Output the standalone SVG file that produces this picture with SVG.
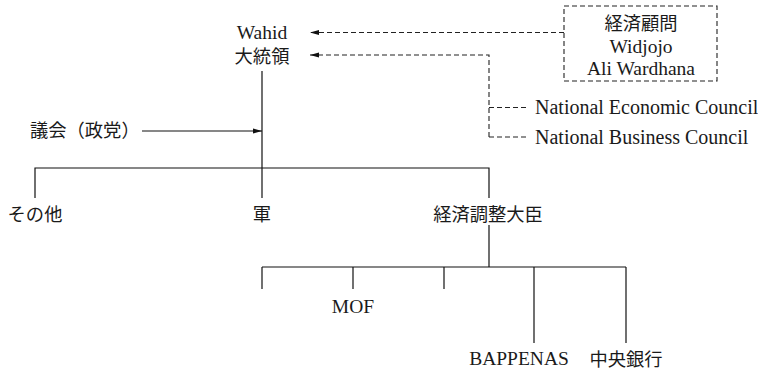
<svg xmlns="http://www.w3.org/2000/svg" width="758" height="373" viewBox="0 0 758 373">
<style>
.ln{stroke:#111;stroke-width:1.2;fill:none}
.ds{stroke:#222;stroke-width:1.1;fill:none;stroke-dasharray:5,3}
.lt{font-family:"Liberation Serif","Times New Roman",serif;font-size:19.5px;fill:#1a1a1a}
.big{font-size:20px}
.cj{font-family:"Noto Sans CJK JP","Noto Sans CJK SC",sans-serif;font-size:18.3px;fill:#1a1a1a}
.c{text-anchor:middle}
</style>
<defs>
<marker id="ah" markerWidth="10" markerHeight="6" refX="9" refY="3" orient="auto" markerUnits="userSpaceOnUse">
<path d="M0,0.5 L9,3 L0,5.5 Z" fill="#111"/>
</marker>
</defs>
<rect width="758" height="373" fill="#fff"/>
<g id="connectors">
<line class="ln" x1="262" y1="71" x2="262" y2="198"/>
<line class="ln" x1="142" y1="131" x2="262" y2="131" marker-end="url(#ah)"/>
<polyline class="ln" points="35,198 35,168 489,168 489,198"/>
<line class="ln" x1="489" y1="225" x2="489" y2="267"/>
<line class="ln" x1="262" y1="267" x2="626" y2="267"/>
<line class="ln" x1="262" y1="267" x2="262" y2="289"/>
<line class="ln" x1="353" y1="267" x2="353" y2="289"/>
<line class="ln" x1="444" y1="267" x2="444" y2="289"/>
<line class="ln" x1="534" y1="267" x2="534" y2="343"/>
<line class="ln" x1="626" y1="267" x2="626" y2="343"/>
<line class="ds" x1="564" y1="32.5" x2="310" y2="32.5" marker-end="url(#ah)"/>
<polyline class="ds" points="489,137 489,55 310,55" marker-end="url(#ah)"/>
<line class="ds" x1="489" y1="107.5" x2="527" y2="107.5"/>
<line class="ds" x1="489" y1="137" x2="527" y2="137"/>
</g>
<g id="president">
<text class="lt c" x="262" y="39">Wahid</text>
<text class="cj c" x="262" y="63">大統領</text>
</g>
<g id="parliament"><text class="cj" x="30" y="137">議会（政党）</text></g>
<g id="advisors">
<rect x="564" y="6" width="153" height="75" class="ds"/>
<text class="cj c" x="641" y="30">経済顧問</text>
<text class="lt c" x="641" y="53">Widjojo</text>
<text class="lt c" x="641" y="75">Ali Wardhana</text>
</g>
<g id="nec"><text class="lt big" x="535" y="114">National Economic Council</text></g>
<g id="nbc"><text class="lt big" x="535" y="144">National Business Council</text></g>
<g id="others"><text class="cj c" x="35" y="221">その他</text></g>
<g id="military"><text class="cj c" x="262" y="221">軍</text></g>
<g id="coord-minister"><text class="cj c" x="488" y="221">経済調整大臣</text></g>
<g id="mof"><text class="lt c" x="353" y="313">MOF</text></g>
<g id="bappenas"><text class="lt c" x="519" y="365">BAPPENAS</text></g>
<g id="central-bank"><text class="cj c" x="626" y="366">中央銀行</text></g>
</svg>
